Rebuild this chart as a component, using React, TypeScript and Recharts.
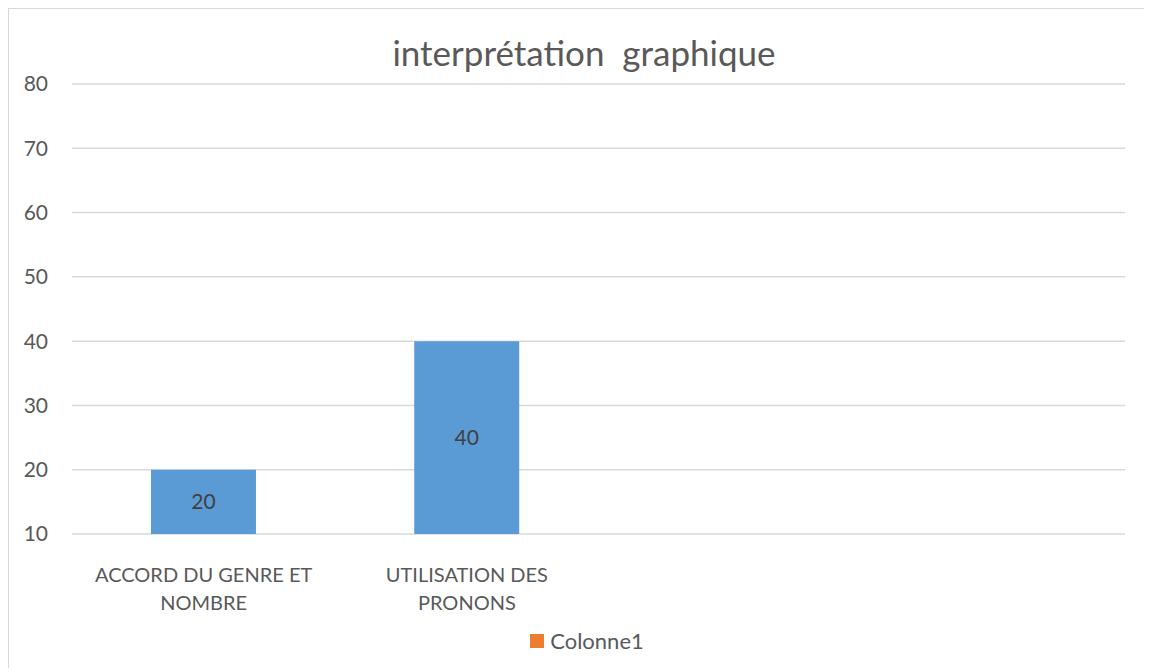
import React from "react";
import { BarChart, Bar, XAxis, YAxis, CartesianGrid, LabelList } from "recharts";

const categories = ["ACCORD DU GENRE ET\nNOMBRE", "UTILISATION DES\nPRONONS", " ", "  "];
const values = [20, 40, null, null];
const yTicks = [10, 20, 30, 40, 50, 60, 70, 80];
const title = "interprétation  graphique";
const legendLabel = "Colonne1";

const data = categories.map((c, i) => ({ name: c, value: values[i] }));

const FONT = "Lato, 'Open Sans', sans-serif";
const TEXT = "#595959";

const CatTick = (props: any) => {
  const { x, y, payload } = props;
  const lines = String(payload.value).split("\n");
  return (
    <g transform={`translate(${x},${y})`}>
      {lines.map((l: string, i: number) => (
        <text key={i} x={0} y={i * 28} textAnchor="middle" dominantBaseline="central" fill={TEXT} fontSize={20} fontFamily={FONT}>
          {l}
        </text>
      ))}
    </g>
  );
};

export default function App() {
  return (
    <div style={{ position: "relative", width: 1144, height: 660, boxSizing: "border-box", borderTop: "1px solid #d9d9d9", borderLeft: "1px solid #d9d9d9", background: "#fff" }}>
      <div style={{ position: "absolute", left: 0, width: 1150, top: 22, textAlign: "center", fontFamily: FONT, fontSize: 35, color: TEXT, whiteSpace: "pre" }}>
        {title}
      </div>
      <div style={{ position: "absolute", left: 0, width: 1156, top: 618, display: "flex", justifyContent: "center", alignItems: "center", fontFamily: FONT, fontSize: 22, color: TEXT }}>
        <span style={{ width: 14, height: 14, background: "#ED7D31", display: "inline-block", marginRight: 6 }} />
        <span>{legendLabel}</span>
      </div>
      <BarChart width={1143} height={659} data={data} margin={{ top: 75, right: 27, bottom: 104, left: 0 }} barCategoryGap="30%">
        <CartesianGrid vertical={false} stroke="#d9d9d9" strokeWidth={1.5} />
        <XAxis dataKey="name" axisLine={false} tickLine={false} tick={<CatTick />} tickSize={0} tickMargin={40} interval={0} height={30} />
        <YAxis domain={[10, 80]} ticks={yTicks} axisLine={false} tickLine={false} tickSize={0} tickMargin={24} width={63} tick={{ fill: TEXT, fontSize: 21, fontFamily: FONT }} allowDataOverflow />
        <Bar dataKey="value" fill="#5B9BD5" isAnimationActive={false}>
          <LabelList dataKey="value" position="center" fill="#404040" fontSize={21} fontFamily={FONT} />
        </Bar>
      </BarChart>
    </div>
  );
}
